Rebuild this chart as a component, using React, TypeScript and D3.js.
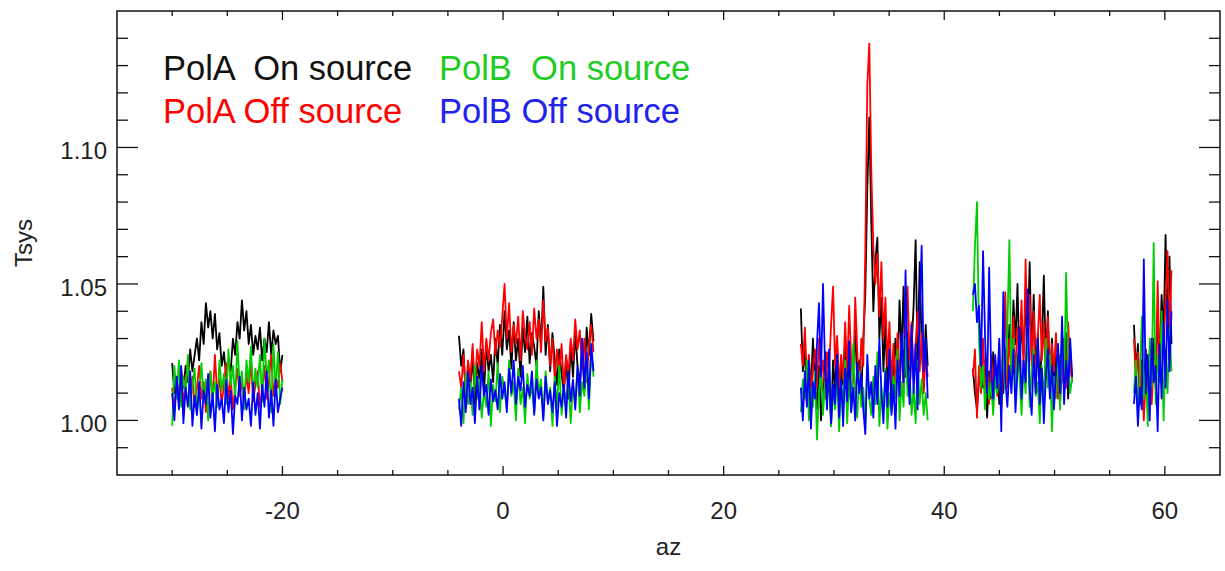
import React from "react";
import * as d3 from "d3";

// Azimuth extent of each scan segment
const segStart = [-30, -4, 27, 42.6, 57.2];
const segEnd = [-20, 8.2, 38.5, 51.6, 60.6];

// PolA On source (black)
const polAOn: number[][] = [
  [1.021, 1.010, 1.016, 1.008, 1.018, 1.012, 1.020, 1.014, 1.026, 1.018,
   1.024, 1.030, 1.022, 1.036, 1.028, 1.043, 1.034, 1.040, 1.030, 1.039,
   1.026, 1.032, 1.020, 1.025, 1.016, 1.022, 1.018, 1.030, 1.024, 1.036,
   1.030, 1.044, 1.033, 1.040, 1.028, 1.035, 1.024, 1.031, 1.026, 1.034,
   1.022, 1.030, 1.025, 1.036, 1.024, 1.033, 1.028, 1.031, 1.018, 1.024],
  [1.031, 1.020, 1.026, 1.008, 1.018, 1.012, 1.024, 1.006, 1.021, 1.015,
   1.026, 1.010, 1.028, 1.018, 1.024, 1.014, 1.030, 1.020, 1.035, 1.024,
   1.040, 1.026, 1.033, 1.019, 1.036, 1.022, 1.030, 1.016, 1.034, 1.025,
   1.038, 1.021, 1.032, 1.027, 1.020, 1.040, 1.028, 1.049, 1.024, 1.035,
   1.018, 1.032, 1.022, 1.013, 1.026, 1.017, 1.010, 1.023, 1.008, 1.028,
   1.016, 1.032, 1.020, 1.013, 1.027, 1.011, 1.034, 1.024, 1.039, 1.029],
  [1.041, 1.018, 1.026, 1.006, 1.022, 1.010, 1.030, 1.014, 1.004, 1.020,
   1.000, 1.012, 1.025, 1.008, 1.016, 0.998, 1.022, 1.011, 1.028, 1.006,
   1.019, 1.013, 1.030, 1.009, 1.024, 1.005, 1.018, 1.033, 1.014, 1.022,
   1.008, 1.030, 1.046, 1.085, 1.111, 1.072, 1.040, 1.058, 1.067, 1.030,
   1.045, 1.018, 1.036, 1.012, 1.026, 1.008, 1.020, 1.030, 1.014, 1.044,
   1.024, 1.049, 1.016, 1.032, 1.010, 1.027, 1.042, 1.066, 1.020, 1.058,
   1.028, 1.012, 1.035, 1.020],
  [1.019, 1.010, 1.004, 1.015, 1.028, 1.012, 1.022, 1.001, 1.018, 1.008,
   1.025, 1.012, 1.020, 1.006, 1.016, 1.010, 1.026, 1.014, 1.035, 1.020,
   1.044, 1.028, 1.050, 1.018, 1.036, 1.024, 1.042, 1.030, 1.058, 1.022,
   1.046, 1.016, 1.032, 1.012, 1.027, 1.053, 1.020, 1.040, 1.014, 1.030,
   1.010, 1.024, 1.018, 1.006, 1.020, 1.012, 1.032, 1.008, 1.026, 1.014],
  [1.035, 1.018, 1.028, 1.006, 1.022, 1.012, 1.026, 1.004, 1.020, 1.010,
   1.030, 1.014, 1.040, 1.020, 1.046, 1.030, 1.068, 1.036, 1.060, 1.028],
];

// PolA Off source (red)
const polAOff: number[][] = [
  [1.012, 1.004, 1.015, 1.008, 1.019, 1.006, 1.013, 1.022, 1.009, 1.016,
   1.005, 1.012, 1.020, 1.008, 1.014, 1.003, 1.011, 1.018, 1.007, 1.024,
   1.010, 1.015, 1.006, 1.013, 1.021, 1.008, 1.016, 1.004, 1.012, 1.019,
   1.009, 1.014, 1.006, 1.017, 1.010, 1.022, 1.007, 1.013, 1.018, 1.005,
   1.011, 1.020, 1.008, 1.015, 1.024, 1.009, 1.016, 1.012, 1.021, 1.014],
  [1.018, 1.012, 1.024, 1.010, 1.022, 1.015, 1.028, 1.013, 1.026, 1.020,
   1.036, 1.018, 1.030, 1.022, 1.032, 1.037, 1.024, 1.033, 1.027, 1.038,
   1.050, 1.030, 1.043, 1.025, 1.035, 1.028, 1.038, 1.022, 1.040, 1.031,
   1.026, 1.036, 1.024, 1.041, 1.030, 1.037, 1.025, 1.044, 1.029, 1.034,
   1.020, 1.030, 1.015, 1.026, 1.018, 1.028, 1.012, 1.024, 1.017, 1.030,
   1.022, 1.037, 1.026, 1.033, 1.019, 1.030, 1.014, 1.028, 1.035, 1.025],
  [1.028, 1.020, 1.034, 1.015, 1.024, 1.010, 1.019, 1.026, 1.012, 1.030,
   1.016, 1.022, 1.008, 1.025, 1.018, 1.035, 1.049, 1.020, 1.031, 1.012,
   1.024, 1.015, 1.036, 1.018, 1.042, 1.022, 1.014, 1.045, 1.026, 1.010,
   1.030, 1.020, 1.062, 1.123, 1.138, 1.091, 1.064, 1.050, 1.061, 1.038,
   1.058, 1.030, 1.045, 1.020, 1.036, 1.014, 1.028, 1.010, 1.032, 1.018,
   1.025, 1.012, 1.030, 1.049, 1.022, 1.036, 1.015, 1.028, 1.040, 1.018,
   1.032, 1.010, 1.024, 1.016],
  [1.016, 1.026, 1.001, 1.020, 1.010, 1.030, 1.012, 1.018, 1.006, 1.024,
   1.014, 1.022, 1.009, 1.028, 1.004, 1.017, 1.047, 1.012, 1.030, 1.020,
   1.038, 1.015, 1.034, 1.026, 1.044, 1.018, 1.059, 1.025, 1.046, 1.020,
   1.040, 1.012, 1.030, 1.046, 1.022, 1.036, 1.015, 1.038, 1.010, 1.028,
   1.018, 1.032, 1.008, 1.024, 1.015, 1.030, 1.012, 1.036, 1.020, 1.014],
  [1.030, 1.014, 1.025, 1.008, 1.020, 1.000, 1.016, 1.010, 1.026, 1.006,
   1.022, 1.012, 1.051, 1.018, 1.034, 1.024, 1.044, 1.062, 1.030, 1.055],
];

// PolB On source (green)
const polBOn: number[][] = [
  [0.998, 1.020, 1.008, 1.022, 1.005, 1.016, 1.010, 1.024, 1.004, 1.013,
   1.019, 1.002, 1.011, 1.021, 1.007, 1.015, 1.000, 1.018, 1.009, 1.014,
   1.005, 1.022, 1.011, 1.017, 1.006, 1.026, 1.013, 1.020, 1.008, 1.029,
   1.012, 1.018, 1.004, 1.022, 1.014, 1.027, 1.009, 1.019, 1.012, 1.024,
   1.007, 1.030, 1.016, 1.022, 1.003, 1.028, 1.011, 1.025, 1.006, 1.015],
  [1.004, 1.012, 0.999, 1.017, 1.006, 1.014, 1.002, 1.020, 1.008, 1.015,
   1.001, 1.011, 1.005, 1.018, 0.998, 1.013, 1.007, 1.021, 1.003, 1.016,
   1.010, 1.005, 1.022, 1.009, 1.014, 1.000, 1.019, 1.006, 1.012, 0.999,
   1.017, 1.008, 1.013, 1.003, 1.022, 1.010, 1.015, 1.001, 1.018, 1.007,
   1.012, 0.998, 1.016, 1.005, 1.020, 1.002, 1.011, 1.008, 1.015, 0.999,
   1.013, 1.006, 1.019, 1.003, 1.014, 1.009, 1.022, 1.004, 1.025, 1.016],
  [1.003, 1.015, 1.008, 1.022, 1.000, 1.012, 1.005, 1.018, 0.993, 1.010,
   1.020, 1.002, 1.014, 1.006, 1.024, 0.998, 1.011, 1.004, 1.017, 0.996,
   1.013, 1.007, 1.022, 0.999, 1.015, 1.003, 1.028, 1.009, 1.001, 1.018,
   1.005, 1.012, 0.997, 1.020, 1.008, 1.002, 1.016, 1.006, 1.025, 0.998,
   1.012, 1.004, 1.019, 0.997, 1.010, 1.003, 1.016, 1.008, 1.026, 1.000,
   1.014, 1.005, 1.030, 1.009, 1.018, 1.002, 1.012, 0.999, 1.022, 1.006,
   1.015, 1.002, 1.010, 1.000],
  [1.040, 1.064, 1.080, 1.030, 1.012, 1.020, 1.004, 1.018, 1.008, 1.014,
   1.002, 1.016, 1.010, 1.022, 1.006, 1.028, 1.012, 1.034, 1.066, 1.015,
   1.030, 1.008, 1.024, 1.016, 1.002, 1.020, 1.010, 1.036, 1.005, 1.018,
   1.026, 1.009, 1.014, 0.999, 1.020, 1.006, 1.030, 1.012, 1.024, 0.996,
   1.016, 1.008, 1.028, 1.004, 1.034, 1.012, 1.054, 1.020, 1.010, 1.016],
  [1.010, 1.022, 1.002, 1.016, 1.038, 1.008, 1.020, 0.998, 1.030, 1.012,
   1.065, 1.006, 1.024, 1.014, 1.040, 1.000, 1.026, 1.010, 1.034, 1.018],
];

// PolB Off source (blue)
const polBOff: number[][] = [
  [1.010, 1.000, 1.016, 1.004, 1.020, 0.999, 1.012, 1.005, 1.018, 0.998,
   1.009, 1.002, 1.014, 0.997, 1.011, 1.006, 1.017, 1.001, 1.010, 0.996,
   1.013, 1.004, 1.008, 0.999, 1.015, 1.003, 1.011, 0.995, 1.009, 1.006,
   1.016, 1.000, 1.012, 1.004, 1.008, 0.998, 1.014, 1.002, 1.010, 0.997,
   1.013, 1.005, 1.018, 1.001, 1.011, 0.998, 1.015, 1.003, 1.008, 1.012],
  [1.008, 0.998, 1.014, 1.003, 1.018, 1.006, 1.012, 0.999, 1.016, 1.004,
   1.020, 1.009, 1.013, 1.002, 1.015, 1.007, 1.011, 1.004, 1.017, 1.008,
   1.014, 1.003, 1.019, 1.010, 1.022, 1.006, 1.016, 1.011, 1.020, 1.005,
   1.013, 1.009, 1.018, 1.002, 1.015, 1.008, 1.012, 1.000, 1.016, 1.006,
   1.011, 1.003, 1.014, 0.998, 1.010, 1.005, 1.013, 1.001, 1.018, 1.007,
   1.015, 1.004, 1.020, 1.009, 1.030, 1.012, 1.025, 1.008, 1.028, 1.018],
  [1.012, 1.000, 1.018, 1.005, 1.022, 0.997, 1.014, 1.008, 1.028, 1.043,
   1.016, 1.050, 1.020, 1.004, 1.026, 0.999, 1.013, 1.006, 1.024, 1.001,
   1.015, 0.998, 1.019, 1.007, 1.029, 1.003, 1.012, 1.000, 1.021, 1.010,
   1.017, 1.004, 0.995, 1.024, 1.008, 1.014, 1.001, 1.020, 1.006, 1.030,
   1.010, 0.999, 1.018, 1.005, 1.026, 1.002, 1.013, 0.997, 1.022, 1.009,
   1.032, 1.014, 1.055, 1.020, 1.006, 1.035, 1.010, 1.028, 1.004, 1.040,
   1.064, 1.018, 1.030, 1.008],
  [1.046, 1.050, 1.036, 1.042, 1.020, 1.062, 1.030, 1.010, 1.056, 1.018,
   1.008, 1.024, 1.012, 1.030, 0.996, 1.047, 1.015, 1.005, 1.020, 1.010,
   1.026, 1.003, 1.018, 1.034, 1.008, 1.022, 1.014, 1.048, 1.012, 1.002,
   1.024, 1.010, 1.030, 1.006, 1.019, 0.999, 1.016, 1.026, 1.008, 1.020,
   1.004, 1.018, 1.028, 1.010, 1.038, 1.006, 1.022, 1.012, 1.030, 1.016],
  [1.006, 1.016, 0.998, 1.012, 1.004, 1.059, 1.010, 1.024, 1.000, 1.030,
   1.014, 1.020, 0.996, 1.028, 1.008, 1.036, 1.012, 1.044, 1.018, 1.040],
];

const seriesNames = ["PolA  On source", "PolA Off source", "PolB  On source", "PolB Off source"];
const seriesColors = ["#000000", "#ff0000", "#00cc00", "#0000ff"];
const seriesData = [polAOn, polAOff, polBOn, polBOff];

const xMajorTicks = [-20, 0, 20, 40, 60];
const yMajorTicks = [1.0, 1.05, 1.1];

const W = 1225;
const H = 571;
const L = 117, R = 1220, T = 11, B = 475;
const FONT = "'Liberation Sans', Arial, Helvetica, sans-serif";

export default function App() {
  const x = d3.scaleLinear().domain([-35, 65]).range([L, R]);
  const y = d3.scaleLinear().domain([0.98, 1.15]).range([B, T]);
  const line = d3
    .line<[number, number]>()
    .x((d) => x(d[0]))
    .y((d) => y(d[1]));

  const xMinor = d3.range(-30, 65, 5).filter((v) => !xMajorTicks.includes(v));
  const yMinor = d3
    .range(0.99, 1.15, 0.01)
    .map((v) => Math.round(v * 100) / 100)
    .filter((v) => !yMajorTicks.some((m) => Math.abs(m - v) < 1e-6));

  const axisColor = "#111";
  const labelColor = "#222";

  return (
    <svg
      width={W}
      height={H}
      style={{ position: "absolute", left: 0, top: 0, background: "#fff" }}
      fontFamily={FONT}
    >
      <rect x={0} y={0} width={W} height={H} fill="#fff" />
      {/* data */}
      <g clipPath="url(#clip)">
        {seriesData.map((segs, si) => (
          <g key={si}>
            {segs.map((vals, gi) => {
              const s = segStart[gi];
              const e = segEnd[gi];
              const pts: [number, number][] = vals.map((v, i) => [
                s + (i * (e - s)) / (vals.length - 1),
                v,
              ]);
              return (
                <path
                  key={gi}
                  d={line(pts) || ""}
                  fill="none"
                  stroke={seriesColors[si]}
                  strokeWidth={1.8}
                  strokeLinejoin="round"
                />
              );
            })}
          </g>
        ))}
      </g>
      <defs>
        <clipPath id="clip">
          <rect x={L} y={T} width={R - L} height={B - T} />
        </clipPath>
      </defs>
      {/* frame */}
      <rect x={L} y={T} width={R - L} height={B - T} fill="none" stroke={axisColor} strokeWidth={1.5} />
      {/* x ticks */}
      {xMajorTicks.map((v) => (
        <g key={"xM" + v}>
          <line x1={x(v)} x2={x(v)} y1={B} y2={B - 9} stroke={axisColor} strokeWidth={1.3} />
          <line x1={x(v)} x2={x(v)} y1={T} y2={T + 9} stroke={axisColor} strokeWidth={1.3} />
          <text x={x(v)} y={519} textAnchor="middle" fontSize={24} fill={labelColor}>
            {v}
          </text>
        </g>
      ))}
      {xMinor.map((v) => (
        <g key={"xm" + v}>
          <line x1={x(v)} x2={x(v)} y1={B} y2={B - 5} stroke={axisColor} strokeWidth={1.3} />
          <line x1={x(v)} x2={x(v)} y1={T} y2={T + 5} stroke={axisColor} strokeWidth={1.3} />
        </g>
      ))}
      {/* y ticks */}
      {yMajorTicks.map((v) => (
        <g key={"yM" + v}>
          <line x1={L} x2={L + 21} y1={y(v)} y2={y(v)} stroke={axisColor} strokeWidth={1.3} />
          <line x1={R} x2={R - 21} y1={y(v)} y2={y(v)} stroke={axisColor} strokeWidth={1.3} />
          <text x={107} y={y(v) + 12} textAnchor="end" fontSize={24} fill={labelColor}>
            {v.toFixed(2)}
          </text>
        </g>
      ))}
      {yMinor.map((v) => (
        <g key={"ym" + v}>
          <line x1={L} x2={L + 11} y1={y(v)} y2={y(v)} stroke={axisColor} strokeWidth={1.3} />
          <line x1={R} x2={R - 11} y1={y(v)} y2={y(v)} stroke={axisColor} strokeWidth={1.3} />
        </g>
      ))}
      {/* axis titles */}
      <text x={(L + R) / 2} y={555} textAnchor="middle" fontSize={24} fill={labelColor}>
        az
      </text>
      <text
        transform={`translate(32, ${(T + B) / 2}) rotate(-90)`}
        textAnchor="middle"
        fontSize={24}
        fill={labelColor}
      >
        Tsys
      </text>
      {/* legend */}
      {seriesNames.map((name, i) => (
        <text
          key={name}
          x={i < 2 ? 163 : 439}
          y={i % 2 === 0 ? 80 : 123}
          fontSize={34.5}
          fill={seriesColors[i] === "#00cc00" ? "#1fcc1f" : seriesColors[i] === "#0000ff" ? "#2222ee" : seriesColors[i] === "#000000" ? "#111" : seriesColors[i]}
          style={{ whiteSpace: "pre" }}
        >
          {name}
        </text>
      ))}
    </svg>
  );
}
